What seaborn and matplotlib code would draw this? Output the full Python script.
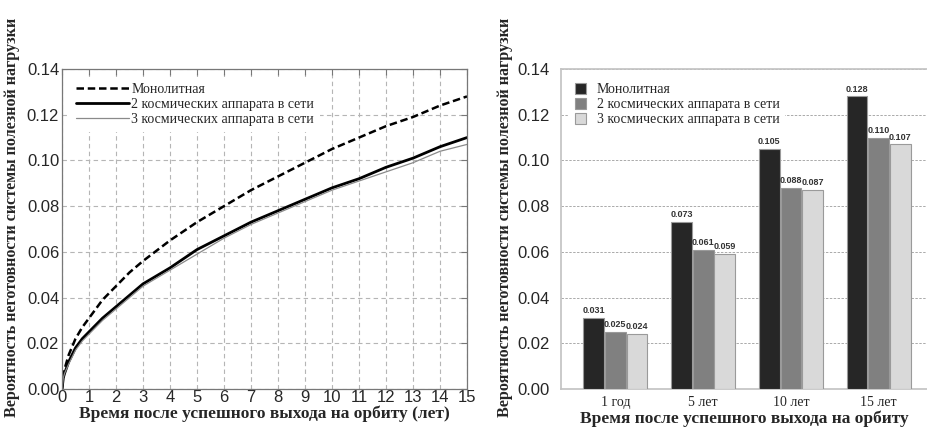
import pandas as pd
import seaborn as sns
import matplotlib.pyplot as plt

# Curves
years = [0, 0.05, 0.1, 0.25, 0.5, 0.75, 1, 1.5, 2, 2.5, 3, 4, 5, 6, 7, 8, 9, 10, 11, 12, 13, 14, 15]
mono = [0, 0.006, 0.009, 0.015, 0.022, 0.027, 0.031, 0.039, 0.045, 0.051, 0.056, 0.065, 0.073,
        0.080, 0.087, 0.093, 0.099, 0.105, 0.110, 0.115, 0.119, 0.124, 0.128]
two_sc = [0, 0.005, 0.007, 0.012, 0.018, 0.022, 0.025, 0.031, 0.036, 0.041, 0.046, 0.053, 0.061,
          0.067, 0.073, 0.078, 0.083, 0.088, 0.092, 0.097, 0.101, 0.106, 0.110]
three_sc = [0, 0.005, 0.007, 0.011, 0.017, 0.021, 0.024, 0.030, 0.035, 0.040, 0.045, 0.052, 0.059,
            0.066, 0.072, 0.077, 0.082, 0.087, 0.091, 0.095, 0.099, 0.104, 0.107]

# Bars
periods = ["1 год", "5 лет", "10 лет", "15 лет"]
bar_mono = [0.031, 0.073, 0.105, 0.128]
bar_two = [0.025, 0.061, 0.088, 0.110]
bar_three = [0.024, 0.059, 0.087, 0.107]

names = ["Монолитная", "2 космических аппарата в сети", "3 космических аппарата в сети"]
ylab = "Вероятность неготовности системы полезной нагрузки"

sns.set_theme(style="white")
plt.rcParams["font.family"] = ["Liberation Sans", "DejaVu Sans"]
serif = ["Liberation Serif", "DejaVu Serif"]

fig = plt.figure(figsize=(9.27, 4.28), dpi=100)
ax1 = fig.add_axes([0.0669, 0.0911, 0.4369, 0.7477])
ax2 = fig.add_axes([0.605, 0.0911, 0.396, 0.7477])

# ---- left: curves
sns.lineplot(x=years, y=mono, ax=ax1, color="black", lw=1.8, linestyle=(0, (3, 1.5)), label=names[0])
sns.lineplot(x=years, y=two_sc, ax=ax1, color="black", lw=2.0, label=names[1])
sns.lineplot(x=years, y=three_sc, ax=ax1, color="#8a8a8a", lw=0.9, label=names[2])
ax1.set_xlim(0, 15)
ax1.set_ylim(0, 0.14)
ax1.set_xticks(range(16))
ax1.set_yticks([i * 0.02 for i in range(8)])
ax1.set_yticklabels([f"{i * 0.02:.2f}" for i in range(8)])
ax1.grid(True, linestyle=(0, (4, 3)), color="#b5b5b5", lw=0.8)
ax1.tick_params(direction="in", length=4, width=0.8, color="#777777", labelsize=12,
                top=True, right=True, pad=2)
ax1.tick_params(axis="x", pad=1)
for s in ax1.spines.values():
    s.set_color("#777777")
    s.set_linewidth(0.9)
ax1.set_xlabel("Время после успешного выхода на орбиту (лет)", family=serif,
               fontweight="bold", fontsize=12.5, labelpad=0)
ax1.set_ylabel(ylab, family=serif, fontweight="bold", fontsize=11.6)
ax1.yaxis.set_label_coords(-0.104, 0.537)
leg = ax1.legend(loc="upper left", prop={"family": serif, "size": 10}, frameon=True,
                 handlelength=3.8, handletextpad=0.2, labelspacing=0.15,
                 borderaxespad=0.6, framealpha=1)
leg.get_frame().set_edgecolor("none")

# ---- right: bars
df = pd.DataFrame({
    "period": periods * 3,
    "value": bar_mono + bar_two + bar_three,
    "type": [names[0]] * 4 + [names[1]] * 4 + [names[2]] * 4,
})
sns.barplot(data=df, x="period", y="value", hue="type", ax=ax2,
            palette=["#262626", "#808080", "#d9d9d9"], width=0.74, gap=0.04,
            edgecolor="#9a9a9a", linewidth=0.8, zorder=3)
for c in ax2.containers:
    ax2.bar_label(c, fmt="%.3f", fontsize=6.5, fontweight="bold", padding=2, color="#333333")
ax2.set_xlim(-0.62, 3.56)
ax2.set_ylim(0, 0.14)
ax2.set_yticks([i * 0.02 for i in range(8)])
ax2.set_yticklabels([f"{i * 0.02:.2f}" for i in range(8)])
ax2.yaxis.grid(True, linestyle=(0, (2.5, 1.5)), color="#aaaaaa", lw=0.7)
ax2.set_axisbelow(True)
ax2.tick_params(length=0, labelsize=12, pad=8)
for lbl in ax2.get_xticklabels():
    lbl.set_family(serif)
    lbl.set_fontsize(10)
ax2.tick_params(axis="x", pad=5)
for s in ax2.spines.values():
    s.set_color("#c4c4c4")
ax2.spines["right"].set_visible(False)
ax2.set_xlabel("Время после успешного выхода на орбиту", family=serif,
               fontweight="bold", fontsize=12.5, labelpad=1)
ax2.set_ylabel(ylab, family=serif, fontweight="bold", fontsize=11.6)
ax2.yaxis.set_label_coords(-0.131, 0.537)
h, l = ax2.get_legend_handles_labels()
leg2 = ax2.legend(h, l, loc="upper left", prop={"family": serif, "size": 10}, frameon=True,
                  handlelength=0.8, handleheight=0.8, handletextpad=0.8, labelspacing=0.15,
                  borderaxespad=0.6, framealpha=1)
leg2.get_frame().set_edgecolor("none")
leg2.set_zorder(5)

fig.savefig("out.png", dpi=100)
